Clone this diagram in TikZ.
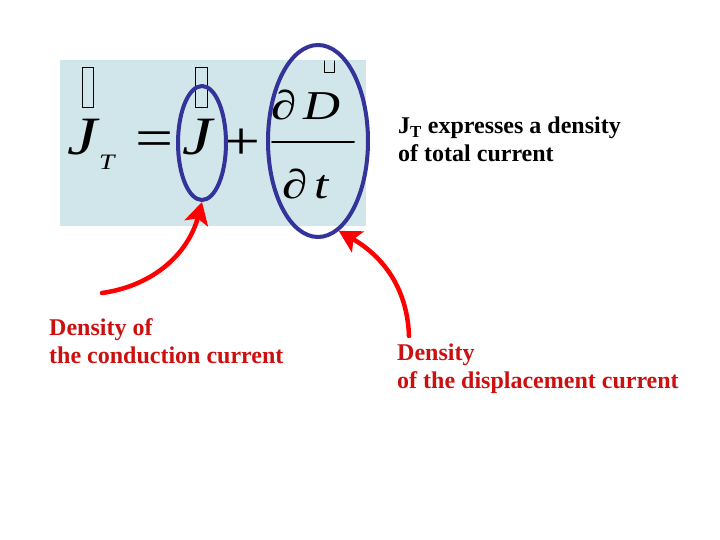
\documentclass[tikz,border=0pt]{standalone}
\usepackage{fontspec}
\setmainfont{Liberation Serif}
\newfontfamily\eqfont[FakeStretch=1.25]{Liberation Serif}
\usepackage{tikz}
\usetikzlibrary{arrows.meta,shapes.geometric}
\definecolor{eqback}{RGB}{208,230,234}
\definecolor{ringblue}{RGB}{51,51,153}
\definecolor{noteRed}{RGB}{204,16,16}
\begin{document}
\begin{tikzpicture}[line cap=round,line join=round,x=1pt,y=1pt,
  ring/.style={draw=ringblue,line width=4pt,ellipse,inner sep=0pt},
  bigsym/.style={inner sep=0pt,font=\eqfont\fontsize{54}{60}\selectfont},
  fracsym/.style={inner sep=0pt,font=\eqfont\fontsize{41}{46}\selectfont},
  note/.style={inner sep=0pt,align=left,font=\fontsize{24}{28}\selectfont\bfseries},
  redarrow/.style={draw=red,line width=4.5pt,-{Stealth[length=22pt,width=24pt,inset=5pt]}}]
\useasboundingbox (0,0) rectangle (720,-540);
% light blue panel behind the formula
\fill[eqback] (60,-60) rectangle (366,-226);
% missing vector marks
\draw[line width=1pt] (82,-68) rectangle (93,-108);
\draw[line width=1pt] (195,-68) rectangle (207,-108);
\draw[line width=1pt] (324,-61) -- (324,-73) -- (334,-73) -- (334,-61);
% the formula
\node (jtot) at (67,-155) [anchor=base west,bigsym] {\itshape J};
\node (tsub) at (99,-170) [anchor=base west,inner sep=0pt,font=\eqfont\fontsize{22}{24}\selectfont\itshape] {T};
\node (eqsign) at (155,-144) [bigsym] {=};
\node (jcond) at (182,-155) [anchor=base west,bigsym] {\itshape J};
\node (plus) at (242,-144) [bigsym] {+};
\node (dnum) at (271,-120) [anchor=base west,fracsym] {∂\,\itshape D};
\draw[line width=2pt] (272,-142) -- (354,-142);
\node (dden) at (282,-199) [anchor=base west,fracsym] {∂\,\itshape t};
% rings round the two terms
\node (jcirc) at (202,-143) [ring,minimum width=48pt,minimum height=114pt] {};
\node (dcirc) at (318,-141) [ring,minimum width=100pt,minimum height=192pt] {};
% notes (base = last line)
\node (total) at (398,-162) [anchor=base west,note] {J\textsubscript{T} expresses a density\\of total current};
\node (condtxt) at (49,-363) [anchor=base west,note,text=noteRed] {Density of\\the conduction current};
\node (disptxt) at (397,-388) [anchor=base west,note,text=noteRed] {Density\\of the displacement current};
% arrows
\coordinate (condstart) at (102,-293);
\coordinate (dispstart) at (409,-336);
\draw[redarrow] (condstart) to[out=8,in=-105] (jcirc.south);
\draw[redarrow] (dispstart) to[out=92,in=-30] (dcirc.-77);
\end{tikzpicture}
\end{document}
